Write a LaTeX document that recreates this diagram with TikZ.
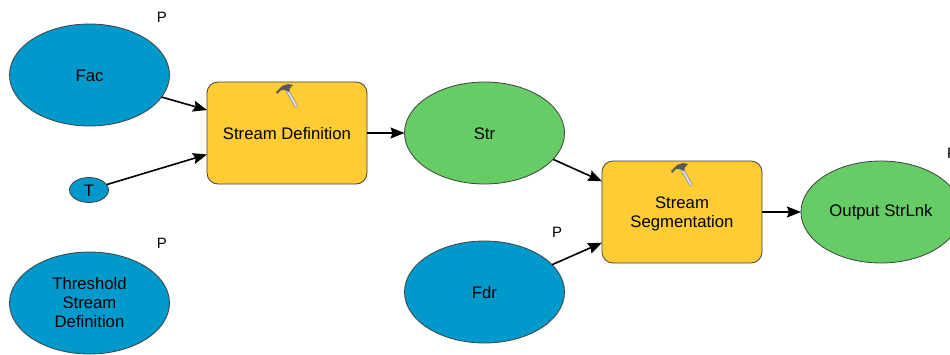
\documentclass[tikz,border=0pt]{standalone}
\usepackage{fontspec}
\setmainfont{Liberation Sans}
\usetikzlibrary{shapes.geometric,arrows.meta}
\definecolor{databl}{HTML}{0099CC}
\definecolor{datagr}{HTML}{66CC66}
\definecolor{toolye}{HTML}{FFCC33}
\definecolor{edgegr}{HTML}{404040}
\newcommand{\hammericon}[2]{%
  \begin{scope}[shift={(#1,#2)}]
    \draw[line width=3.6pt, gray!80, line cap=round] (-1,-6) -- (8,10);
    \draw[line width=1.8pt, gray!25, line cap=round] (-1,-6) -- (8,10);
    \fill[gray!70!black] (-12,-4) -- (-6,-10) -- (0,-12) -- (5,-11) -- (2,-8) -- (1,-4) -- (-3,-6) -- (-7,-6) -- (-11,-2) -- cycle;
  \end{scope}}
\begin{document}
\begin{tikzpicture}[x=1pt,y=-1pt, font=\fontsize{16.7}{19}\selectfont, line join=round, >={Stealth[length=14pt,width=11pt,inset=2pt]},
    dataell/.style={ellipse, draw=edgegr, line width=0.8pt, inner sep=0pt, outer sep=0pt, minimum width=160pt, minimum height=102pt, align=center},
    inputell/.style={dataell, fill=databl},
    outputell/.style={dataell, fill=datagr},
    toolbox/.style={rectangle, rounded corners=11pt, draw=edgegr, line width=0.8pt, fill=toolye, inner sep=0pt, outer sep=0pt, minimum width=160pt, minimum height=102pt, align=center},
    link/.style={->, black, line width=1.6pt},
    pmark/.style={inner sep=0pt, font=\fontsize{15}{17}\selectfont}]
  \useasboundingbox (0,0) rectangle (950,354);
  \clip (0,0) rectangle (950,354);
  \fill[white] (0,0) rectangle (950,354);

  \node[inputell, text height=13pt] (fac) at (89.5,75) {Fac};
  \node[inputell, minimum width=39pt, minimum height=25pt, text height=13pt] (t) at (89,190) {T};
  \node[inputell] (thr) at (89.5,303) {Threshold\\Stream\\Definition};
  \node[toolbox, text height=13pt] (sdef) at (287,133) {Stream Definition};
  \node[outputell, text height=13pt] (str) at (484.5,133) {Str};
  \node[inputell, text height=13pt] (fdr) at (484.5,292) {Fdr};
  \node[toolbox, text height=35pt] (sseg) at (682,212) {Stream\\Segmentation};
  \node[outputell, text height=13pt] (out) at (881,212) {Output StrLnk};

  \node[pmark] (pfac) at (162,17) {P};
  \node[pmark] (pthr) at (162,243) {P};
  \node[pmark] (pfdr) at (557,232) {P};
  \node[pmark] (pout) at (952,153) {P};

  \hammericon{288}{96}
  \hammericon{683}{175}

  \draw[link] (fac.-17) -- (sdef.164);
  \draw[link] (t.17) -- (sdef.195);
  \draw[link] (sdef) -- (str);
  \draw[link] (str.-21) -- (sseg.159);
  \draw[link] (fdr.22) -- (sseg.201);
  \draw[link] (sseg) -- (out);
\end{tikzpicture}
\end{document}
